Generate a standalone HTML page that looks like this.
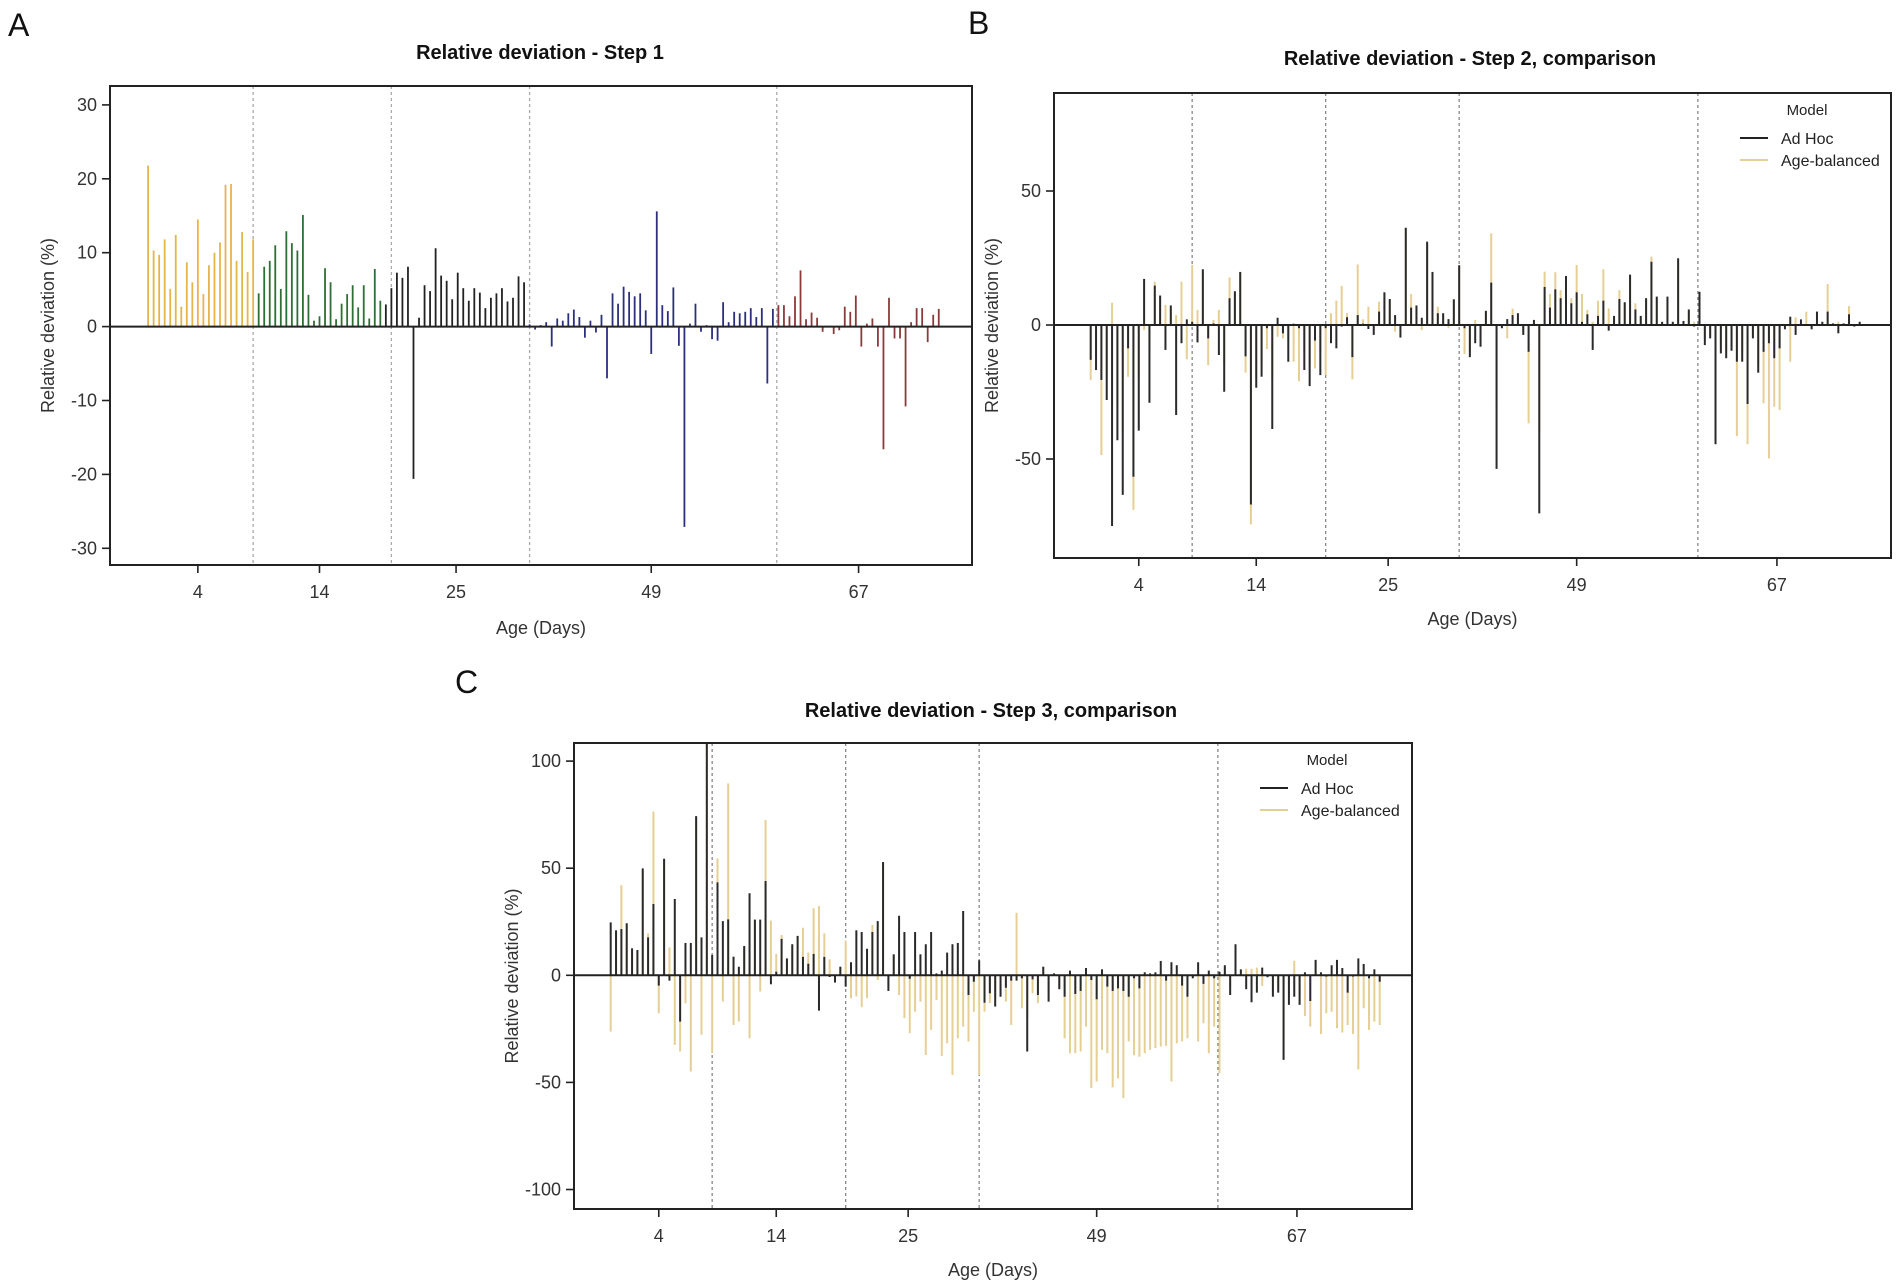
<!DOCTYPE html>
<html><head><meta charset="utf-8"><style>
html,body{margin:0;padding:0;background:#fff}
svg{display:block;font-family:"Liberation Sans",Arial,sans-serif}
</style></head><body>
<svg id="fig" width="1902" height="1286" viewBox="0 0 1902 1286">
<defs>
<clipPath id="clipA"><rect x="110" y="86" width="862" height="479"/></clipPath>
<clipPath id="clipB"><rect x="1054" y="93" width="837" height="465"/></clipPath>
<clipPath id="clipC"><rect x="574" y="743" width="838" height="466"/></clipPath>
</defs>
</svg>
<script>
// ---- Panel A data ----
const aYellow=[21.8,10.3,9.7,11.8,5.1,12.4,2.7,8.7,6,14.5,4.4,8.3,10,11.4,19.2,19.3,8.9,12.8,7.4,11.8];
const aGreen=[4.5,8.1,8.9,11,5.1,12.9,11.3,10.3,15.1,4.3,0.8,1.4,7.9,6,1,3.1,4.4,5.6,2.6,5.6,1.1,7.8,3.5];
const aBlack=[3,5.2,7.3,6.6,8.1,-20.6,1.2,5.6,4.8,10.6,6.9,6.2,3.7,7.3,5.2,3.5,5.2,4.6,2.5,3.9,4.5,5.2,3.4,3.9,6.8,6];
const aBlue=[0.3,-0.4,0.2,0.6,-2.7,1.1,0.8,1.8,2.3,1.3,-1.5,0.8,-0.8,1.6,-7,4.5,3.1,5.4,4.7,4.1,4.5,2.2,-3.7,15.6,2.9,2.1,5.3,-2.6,-27.1,0.4,3.1,-0.7,0.2,-1.7,-1.9,3.3,0.6,2,1.8,2,2.5,1.3,2.5,-7.7,2.4];
const aBrown=[2.9,2.9,1.4,4.1,7.6,1,1.9,1.2,-0.7,0.1,-1,-0.5,2.7,2,4.2,-2.7,0.4,1.1,-2.7,-16.6,3.9,-1.6,-1.6,-10.8,0.6,2.5,2.5,-2.1,1.6,2.4];
const aYTicks=[30,20,10,0,-10,-20,-30];
// ---- Panel B data ----
const bAdHoc=[-13,-16.8,-20.5,-28,-75,-43,-63.4,-8.7,-56.6,-39.4,
17.2,-29,14.7,11,-9.3,7.3,-33.6,-6.8,2.1,1.2,
-6.5,20.8,-5,0.6,-11.2,-24.9,10,12.6,19.8,-11.7,
-67,-23.4,-19.3,-1.2,-38.8,2.7,-3.1,-13.7,0.5,-1.2,
-16.8,-22.8,-5.8,-18.7,-1.2,-6.8,-8.7,-0.6,2.9,-12,
3.7,0.5,-1.5,-3.7,5,12.2,9.7,3.7,-4.7,36.3,
6.5,7.3,2.7,31.1,19.8,4.4,4.4,2.2,9.6,22.3,
-1.2,-12,-6.8,-8.1,5.3,15.8,-53.7,-1.2,2.2,3.7,
4.4,-3.7,-10,1.9,-70.3,14.2,6.5,13.3,10,18.3,
8.1,12.2,1.2,4,-9.3,3.4,9.1,-2.1,3.4,9.7,
8.5,18.8,5.8,3.4,10,23.6,10.6,1.2,10.6,1.2,
24.9,1.5,5.8,-0.6,12.4,-7.5,-5,-44.5,-10.6,-12.4,
-9.6,-13.7,-13.7,-29.5,-5,-17.8,-10,-6.8,-12.4,-8.7,
-1.6,3.1,-3.7,2.1,0,-1.6,5,1.2,5,0.6,
-3.1,0.6,4,-0.6,1.2];
const bBalanced=[-20.5,-15,-48.5,-20,8.3,-30,-40,-19.3,-69,-20,
-1.9,-10,16.2,10,7.5,6,3.7,16.2,-12.8,22.4,
5.6,20,-15,1.9,5.6,-15,17.8,12,19,-17.8,
-74.4,-20,-15,-9,-20,-4.4,-5,-5,-13.7,-21,
-10,-15,-16.2,-10,-18.7,4.4,9.1,14.6,4.4,-20.3,
22.6,2.1,6.8,-0.6,8.7,12,9,-2.5,0,36,
11.6,7,-1.9,30,19,6.8,4,-1.2,9,22,
-10.8,-10,1.9,-5,5,34.2,-30,-1,-5,6.1,
4,-2,-36.7,1,-40,19.9,11.6,19.7,13,18,
10,22.4,11.6,5.6,1.2,9.1,20.8,6.2,3,13,
8,18,8.1,3,10,25.5,10,1,10,1,
24,1,5,1.2,12,-5,-4,-30,-8,-10,
-8,-41.4,-10,-44.5,-4,-15,-29.2,-49.8,-30.5,-31.7,
-1,-13.7,2.9,1,5,-1,5,1,15.3,0.5,
1.2,0.5,7.1,-0.5,1];
const bYTicks=[50,0,-50];
// ---- Panel C data ----
const cAdHoc=[24.7,21,21.6,24.3,12.6,11.8,49.9,17.7,33.3,-4.8,
54.4,-2.5,35.6,-21.6,15.1,15.1,74.3,17.7,115,9.5,
43.4,25.3,26.1,8.7,4,13.7,38.3,26,26,44,
-4.2,1.7,17,7.9,14.5,18.4,8.6,5.4,10,-16.5,
8.6,-0.8,-3.4,4,-5.3,6.1,21,20.2,12.4,20.2,
25.3,52.9,-7.3,9.8,27.8,20.2,-1.6,20.2,9.8,14.5,
20.2,0.9,2.2,10.6,14.5,15.1,30,-9.2,-3,7,
-12.8,-8.4,-14.6,-10,-5.8,-2.5,-2.5,-1.4,-35.6,-1.9,
-9.2,4,-12.3,0.9,-6.5,-10,2.2,-8.7,-7.3,3.4,
-2.2,-11.2,2.8,-5.3,-7.3,-6.1,-7.3,-10,-1.4,-6.1,
1.4,0.9,1.4,6.7,-2.5,6.1,4.7,-4.8,-10,-1.4,
6.1,-4,2.2,-1.4,1.7,4.7,-9.2,14.5,2.8,-6.5,
-12.6,-8.1,3.6,-0.9,-10,-8.1,-39.5,-13.8,-10,-13.8,
1.4,-12,7.2,1.4,-0.6,4.7,7.2,3.4,-8.1,-0.6,
7.9,5.3,-1.4,2.8,-3];
const cBalanced=[-26.3,21,42.1,24,12,11,49,19.6,76.4,-17.7,
54,13.1,-32.5,-35.6,-13.1,-44.9,74,-27.8,115,-36.4,
54.6,-12.3,89.6,-23.2,-21.6,13,-29.4,26,-7.6,72.5,
25.5,10,18.8,7,14,18,22.2,10.6,31.3,32.3,
19.6,7.5,-2,4,16.2,-10.7,-9.9,-14.9,-10.7,23.5,
-2.2,52,-5,9,-9.2,-20,-27,-17,-12.3,-37.2,
-25.5,-11.5,-37.6,-31.7,-46.5,-29.4,-24,-30.9,-17,-46.5,
-17,-13,-10,-7.6,-12.3,-23.2,29.2,-15.4,-20,-8.4,
-13,4,-10,0.5,-5,-29.4,-36.4,-36.4,-35.6,-24,
-52.7,-49.6,-34.8,-36.4,-52.3,-48.1,-57.3,-30.9,-37.3,-38,
-36.4,-34.8,-34,-33.3,-33,-49.6,-31.7,-30.9,-29.4,-1,
-30.9,-22.4,-36.4,-24,-45.7,4,-5,14,2,3.1,
3,3.6,-5,-0.5,-8,-6,-30,-10,6.8,-10,
-19,-24,7,-27.4,-17.7,-17,-24.7,-26.7,-23.2,-27.4,
-43.9,-15.4,-25.5,-21.6,-23.2];
const cYTicks=[100,50,0,-50,-100];
const xTickLabels=["4","14","25","49","67"];
const xTickIdx=[9,31,55.7,91,128.5];
const sepIdx=[19,44,69,113.7];

const NS="http://www.w3.org/2000/svg";
const svg=document.getElementById('fig');
function mk(tag,attrs,parent){const e=document.createElementNS(NS,tag);for(const k in attrs)e.setAttribute(k,attrs[k]);(parent||svg).appendChild(e);return e;}
function txt(s,attrs,parent){const e=mk('text',attrs,parent);e.textContent=s;return e;}

function panel(p){
  const g=mk('g',{});
  
  
  const y=v=>p.y0-v*p.ppu;
  const n=p.count;
  const x=i=>p.x0+i*(p.x1-p.x0)/(n-1);
  sepIdx.forEach(si=>{
    const l=mk('line',{x1:x(si),x2:x(si),y1:p.top,y2:p.bottom,stroke:p.sepColor,'stroke-width':1.3,'stroke-dasharray':'3,3'},g);
    
    
  });
  const bars=mk('g',{'clip-path':'url(#'+p.clip+')'},g);
  p.series.forEach(s=>{
    const sg=mk('g',{},bars);
    
    
    s.data.forEach((v,j)=>{
      const i=s.offset+j;
      const b=mk('line',{x1:x(i),x2:x(i),y1:y(0),y2:y(v),stroke:s.color,'stroke-width':s.w||2},sg);
      
      
    });
  });
  const z=mk('line',{x1:p.left,x2:p.right,y1:y(0),y2:y(0),stroke:'#222','stroke-width':2},g);
  
  
  const fr=mk('rect',{x:p.left,y:p.top,width:p.right-p.left,height:p.bottom-p.top,fill:'none',stroke:'#222','stroke-width':2},g);
  
  
  p.yTicks.forEach(t=>{
    mk('line',{x1:p.left-8,x2:p.left,y1:y(t),y2:y(t),stroke:'#222','stroke-width':1.6},g);
    const tl=txt(String(t),{x:p.left-13,y:y(t)+6,'text-anchor':'end','font-size':18,fill:'#333'},g);
    
    
  });
  xTickLabels.forEach((lab,k)=>{
    const xx=x(xTickIdx[k]);
    mk('line',{x1:xx,x2:xx,y1:p.bottom,y2:p.bottom+8,stroke:'#222','stroke-width':1.6},g);
    const tl=txt(lab,{x:xx,y:p.bottom+33,'text-anchor':'middle','font-size':18,fill:'#333'},g);
    
    
  });
  const ti=txt(p.title,{x:p.tx,y:p.ty,'text-anchor':'middle','font-size':20,'font-weight':'bold',fill:'#111'},g);
  
  
  const xl=txt('Age (Days)',{x:(p.left+p.right)/2,y:p.xly,'text-anchor':'middle','font-size':18,fill:'#333'},g);
  
  
  const yc=(p.top+p.bottom)/2;
  const yl=txt('Relative deviation (%)',{x:p.ylx,y:yc,'text-anchor':'middle','font-size':18,fill:'#333',transform:'rotate(-90 '+p.ylx+' '+yc+')'},g);
  
  
  const le=txt(p.letter,{x:p.lx,y:p.ly,'font-size':32,fill:'#111'},g);
  
  
  if(p.legend){
    const lg=mk('g',{},g);
    
    
    const L=p.legend;
    txt('Model',{x:L.x+67,y:L.y,'text-anchor':'middle','font-size':15,fill:'#222'},lg);
    mk('line',{x1:L.x,x2:L.x+28,y1:L.y+23,y2:L.y+23,stroke:'#222','stroke-width':2},lg);
    const e1=txt('Ad Hoc',{x:L.x+41,y:L.y+29,'font-size':16,fill:'#222'},lg);
    
    
    mk('line',{x1:L.x,x2:L.x+28,y1:L.y+45,y2:L.y+45,stroke:'#e6cf96','stroke-width':2},lg);
    const e2=txt('Age-balanced',{x:L.x+41,y:L.y+51,'font-size':16,fill:'#222'},lg);
    
    
  }
}

panel({name:'panel-a',letter:'A',lx:8,ly:36,clip:'clipA',left:110,right:972,top:86,bottom:565,
  y0:326.6,ppu:7.39,x0:148.1,x1:938.75,count:144,sepColor:'#aaa',
  yTicks:aYTicks,title:'Relative deviation - Step 1',tx:540,ty:59,xly:634,ylx:54,
  series:[{name:'series-4-days',data:aYellow,offset:0,color:'#e6b54a',w:1.8},
          {name:'series-14-days',data:aGreen,offset:20,color:'#2f6e34',w:1.8},
          {name:'series-25-days',data:aBlack,offset:43,color:'#222',w:1.8},
          {name:'series-49-days',data:aBlue,offset:69,color:'#2c2f7c',w:1.8},
          {name:'series-67-days',data:aBrown,offset:114,color:'#8b3a3a',w:1.8}]});
panel({name:'panel-b',letter:'B',lx:968,ly:34,clip:'clipB',left:1054,right:1891,top:93,bottom:558,
  y0:325,ppu:2.68,x0:1090.7,x1:1859.7,count:145,sepColor:'#888',
  yTicks:bYTicks,title:'Relative deviation - Step 2, comparison',tx:1470,ty:65,xly:625,ylx:998,
  legend:{x:1740,y:115},
  series:[{name:'series-age-balanced',data:bBalanced,offset:0,color:'#e6cf96'},
          {name:'series-ad-hoc',data:bAdHoc,offset:0,color:'#2a2a2a'}]});
panel({name:'panel-c',letter:'C',lx:455,ly:693,clip:'clipC',left:574,right:1412,top:743,bottom:1209,
  y0:975.3,ppu:2.142,x0:610.7,x1:1379.7,count:145,sepColor:'#888',
  yTicks:cYTicks,title:'Relative deviation - Step 3, comparison',tx:991,ty:717,xly:1276,ylx:518,
  legend:{x:1260,y:765},
  series:[{name:'series-age-balanced',data:cBalanced,offset:0,color:'#e6cf96'},
          {name:'series-ad-hoc',data:cAdHoc,offset:0,color:'#2a2a2a'}]});
</script>
</body></html>
